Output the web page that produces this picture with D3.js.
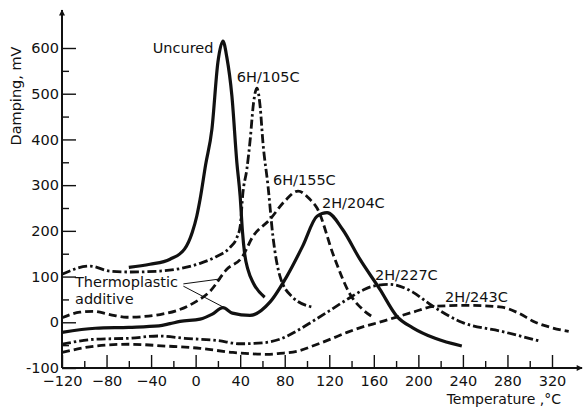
<!DOCTYPE html>
<html>
<head>
<meta charset="utf-8">
<script src="https://cdn.jsdelivr.net/npm/d3@7"></script>
<style>
  body { margin: 0; background: #fff; }
  text { font-family: "DejaVu Sans", sans-serif; fill: #111; }
</style>
</head>
<body>
<svg class="chart"></svg>
<script>
// values: temperature (°C) and damping (mV)
const uncuredT = [-60, -41, -23, -10, -3, 1, 4, 9, 14.6, 20, 24.5, 28, 32.6, 37, 40, 42, 44, 47, 52, 62];
const uncuredD = [120, 127, 138, 160, 197, 232, 269, 345, 422, 569, 615, 580, 494, 350, 275, 200, 150, 115, 85, 55];

const h6c105T = [-120, -95, -77, -59, -32, 4, 18, 31, 37, 40, 42.5, 46, 49, 52, 55, 58, 60.4, 65, 69.4, 75.7, 87, 105];
const h6c105D = [105, 123, 112, 110, 112, 129, 143, 164, 185, 210, 284, 335, 400, 480, 512, 470, 394, 298, 188, 101, 55, 33];

const h6c155T = [-120, -104, -92, -77, -62, -32, -2, 13, 28, 41.6, 51.5, 66.7, 80, 92, 102.6, 109, 124, 138.5, 150, 160];
const h6c155D = [10, 22, 24, 17, 11, 17, 42, 68, 116, 142, 188, 225, 265, 287, 269, 250, 145, 62, 28, 10];

const h2c204T = [-120, -90, -60, -33, -23, -14, 4, 15, 24.5, 33, 48.8, 66.7, 82, 96, 109, 118, 132, 147.5, 165.5, 180.7, 195, 215, 239];
const h2c204D = [-22, -13, -11, -8, -3, 2, 7, 18, 32, 20, 15, 44, 101, 166, 232, 240, 203, 138, 72, 13, -12, -35, -52];

const h2c227T = [-120, -90, -60, -33, -10, 20, 40, 60, 75.7, 90, 105, 120, 136, 150, 159, 174, 195, 210, 239, 275, 309];
const h2c227D = [-48, -37, -35, -30, -35, -40, -47, -45, -37, -20, 2, 25, 50, 70, 79, 83, 66, 40, 0, -20, -41];

const h2c243T = [-120, -90, -60, -27, 4, 33.5, 64, 75.7, 92, 105, 120, 136, 150, 165, 195, 215, 245, 275, 290, 305, 320, 335];
const h2c243D = [-66, -52, -48, -52, -57, -66, -70, -68, -63, -52, -38, -22, -10, 0, 22, 35, 37, 33, 20, 0, -12, -20];

const xTicks = [-120, -80, -40, 0, 40, 80, 120, 160, 200, 240, 280, 320];
const xMinor = [-100, -60, -20, 20, 60, 100, 140, 180, 220, 260, 300];
const yTicks = [-100, 0, 100, 200, 300, 400, 500, 600];
const yMinor = [-50, 50, 150, 250, 350, 450, 550];

const total = {w: 585, h: 408},
      margins = {top: 48, right: 33, bottom: 40, left: 62},
      width = total.w - margins.left - margins.right,
      height = total.h - margins.top - margins.bottom;

const svg = d3.select('.chart')
  .attr('width', total.w)
  .attr('height', total.h);

svg.append('defs').append('marker')
  .attr('id', 'arrow')
  .attr('viewBox', '0 0 10 10')
  .attr('refX', 9).attr('refY', 5)
  .attr('markerWidth', 8).attr('markerHeight', 6)
  .attr('markerUnits', 'userSpaceOnUse')
  .attr('orient', 'auto')
  .append('path')
  .attr('d', 'M0,0 L10,5 L0,10 Z')
  .attr('fill', '#111');

const chart = svg.append('g')
  .attr('transform', 'translate(' + margins.left + ',' + margins.top + ')');

const xScale = d3.scaleLinear().domain([-120, 320]).range([0, width]);
const yScale = d3.scaleLinear().domain([-100, 600]).range([height, 0]);

const fmt = d => d < 0 ? '\u2212' + Math.abs(d) : String(d);

// axes, ticks pointing inwards
chart.append('g')
  .attr('transform', 'translate(0,' + height + ')')
  .call(d3.axisBottom(xScale).tickValues(xTicks).tickSize(-13).tickPadding(8).tickFormat(fmt));
chart.append('g')
  .attr('transform', 'translate(0,' + height + ')')
  .call(d3.axisBottom(xScale).tickValues(xMinor).tickSize(-7).tickFormat(''));

chart.append('g')
  .call(d3.axisLeft(yScale).tickValues(yTicks).tickSize(-14).tickPadding(3).tickFormat(d => d < 0 ? '-' + Math.abs(d) : d));
chart.append('g')
  .call(d3.axisLeft(yScale).tickValues(yMinor).tickSize(-7).tickFormat(''));

chart.selectAll('.domain').remove();
chart.selectAll('.tick line').attr('stroke', '#111').attr('stroke-width', 1.4);
chart.selectAll('.tick text')
  .style('font-size', '14.5px')
  .style('font-family', '"DejaVu Sans", sans-serif')
  .attr('fill', '#111');

chart.append('line')
  .attr('x1', 0).attr('y1', height)
  .attr('x2', xScale(347)).attr('y2', height)
  .attr('stroke', '#111').attr('stroke-width', 2)
  .attr('marker-end', 'url(#arrow)');

chart.append('line')
  .attr('x1', 0).attr('y1', height)
  .attr('x2', 0).attr('y2', yScale(683))
  .attr('stroke', '#111').attr('stroke-width', 2)
  .attr('marker-end', 'url(#arrow)');

// curves
const series = [
  {t: uncuredT, d: uncuredD, dash: null},
  {t: h6c105T, d: h6c105D, dash: '9,3,2.5,3'},
  {t: h6c155T, d: h6c155D, dash: '8,4'},
  {t: h2c204T, d: h2c204D, dash: null},
  {t: h2c227T, d: h2c227D, dash: '9,3,2.5,3'},
  {t: h2c243T, d: h2c243D, dash: '8,4'}
];

const line = d3.line()
  .x(p => xScale(p[0]))
  .y(p => yScale(p[1]))
  .curve(d3.curveMonotoneX);

chart.selectAll('.curve')
  .data(series)
  .enter().append('path')
  .attr('class', 'curve')
  .attr('d', s => line(s.t.map((t, i) => [t, s.d[i]])))
  .attr('fill', 'none')
  .attr('stroke', '#111')
  .attr('stroke-width', s => s.dash ? 2.8 : 3.2)
  .attr('stroke-dasharray', s => s.dash);

// curve labels
const labels = [
  ['Uncured', -38.5, 589, 14.5],
  ['6H/105C', 37, 526, 14.5],
  ['6H/155C', 69.4, 300, 14.5],
  ['2H/204C', 113.4, 250, 14.5],
  ['2H/227C', 161, 92, 14.5],
  ['2H/243C', 224, 44, 14.5],
  ['Thermoplastic', -108.3, 77, 14.5],
  ['additive', -108.3, 39, 14.5]
];

chart.selectAll('.lbl')
  .data(labels)
  .enter().append('text')
  .attr('class', 'lbl')
  .attr('x', d => xScale(d[1]))
  .attr('y', d => yScale(d[2]))
  .style('font-size', d => d[3] + 'px')
  .text(d => d[0]);

// pointer lines for the thermoplastic additive
chart.append('line')
  .attr('x1', xScale(-11)).attr('y1', yScale(84))
  .attr('x2', xScale(22.7)).attr('y2', yScale(95))
  .attr('stroke', '#111').attr('stroke-width', 1);
chart.append('line')
  .attr('x1', xScale(-11)).attr('y1', yScale(79))
  .attr('x2', xScale(25)).attr('y2', yScale(33))
  .attr('stroke', '#111').attr('stroke-width', 1);

// axis titles
svg.append('text')
  .style('font-size', '14px')
  .style('text-anchor', 'end')
  .attr('x', 561)
  .attr('y', 404)
  .text('Temperature ,\u00b0C');

svg.append('text')
  .style('font-size', '14.5px')
  .style('text-anchor', 'middle')
  .attr('transform', 'translate(21,96) rotate(-90)')
  .text('Damping, mV');
</script>
</body>
</html>
